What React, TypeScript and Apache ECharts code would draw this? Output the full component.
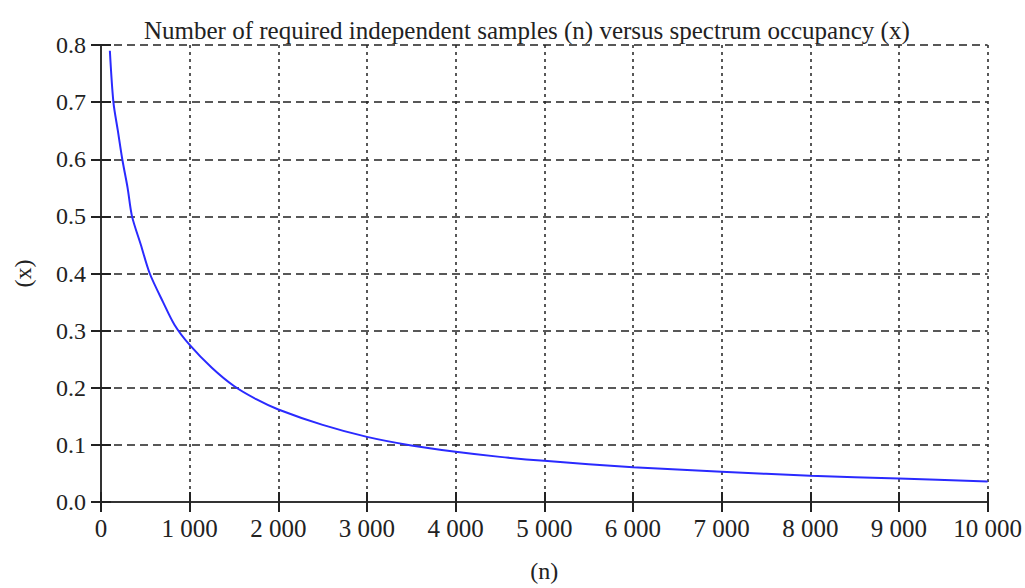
import React, { useEffect, useRef } from "react";
import * as echarts from "echarts";

const samplesN = [100, 140, 190, 240, 300, 350, 450, 550, 700, 830, 1000, 1250, 1500, 1750, 2000, 2500, 3000, 3500, 4000, 4500, 5000, 6000, 7000, 8000, 9000, 10000];
const occupancyX = [0.79, 0.70, 0.65, 0.60, 0.55, 0.50, 0.45, 0.40, 0.35, 0.31, 0.275, 0.235, 0.203, 0.18, 0.162, 0.135, 0.114, 0.099, 0.088, 0.079, 0.072, 0.061, 0.053, 0.046, 0.041, 0.036];

const titleText = "Number of required independent samples (n) versus spectrum occupancy (x)";
const xName = "(n)";
const yName = "(x)";

const FONT = "'Liberation Serif', 'Times New Roman', serif";

export default function App() {
  const ref = useRef<HTMLDivElement>(null);
  useEffect(() => {
    document.body.style.margin = "0";
    const chart = echarts.init(ref.current!, null, { renderer: "svg" });
    const fmtX = (v: number) => {
      const s = String(Math.round(v));
      return s.replace(/\B(?=(\d{3})+(?!\d))/g, " ");
    };
    const axisLineStyle = { color: "#333", width: 2 };
    chart.setOption({
      animation: false,
      backgroundColor: "#fff",
      textStyle: { fontFamily: FONT },
      title: {
        text: titleText,
        left: 139,
        top: 13,
        textStyle: { fontFamily: FONT, fontSize: 25, fontWeight: "normal", color: "#222" },
      },
      grid: { left: 101, right: 35, top: 45, bottom: 77 },
      xAxis: [
        {
          type: "value",
          min: 0,
          max: 10000,
          interval: 1000,
          position: "bottom",
          name: xName,
          nameLocation: "middle",
          nameGap: 57,
          nameTextStyle: { fontFamily: FONT, fontSize: 24, color: "#222" },
          axisLine: { show: true, lineStyle: axisLineStyle },
          axisTick: { show: true, inside: true, length: 10, lineStyle: { color: "#222", width: 2 } },
          axisLabel: { formatter: fmtX, margin: 14, fontFamily: FONT, fontSize: 25, color: "#222" },
          splitLine: { show: true, lineStyle: { color: "#222", width: 1.5, type: [3, 4] } },
        },
        {
          type: "value",
          min: 0,
          max: 10000,
          interval: 1000,
          position: "top",
          axisLine: { show: true, lineStyle: axisLineStyle },
          axisTick: { show: true, inside: true, length: 10, lineStyle: { color: "#222", width: 2 } },
          axisLabel: { show: false },
          splitLine: { show: false },
        },
      ],
      yAxis: [
        {
          type: "value",
          min: 0,
          max: 0.8,
          interval: 0.1,
          position: "left",
          name: yName,
          nameLocation: "middle",
          nameGap: 66,
          nameTextStyle: { fontFamily: FONT, fontSize: 24, color: "#222" },
          axisLine: { show: true, lineStyle: axisLineStyle },
          axisTick: { show: true, inside: true, length: 10, lineStyle: { color: "#222", width: 2 } },
          axisLabel: { formatter: (v: number) => v.toFixed(1), margin: 15, fontFamily: FONT, fontSize: 24, color: "#222" },
          splitLine: { show: true, lineStyle: { color: "#222", width: 1.5, type: [8, 5] } },
        },
        {
          type: "value",
          min: 0,
          max: 0.8,
          interval: 0.1,
          position: "right",
          axisLine: { show: true, lineStyle: axisLineStyle },
          axisTick: { show: true, inside: true, length: 10, lineStyle: { color: "#222", width: 2 } },
          axisLabel: { show: false },
          splitLine: { show: false },
        },
      ],
      series: [
        {
          type: "line",
          xAxisIndex: 0,
          yAxisIndex: 0,
          data: samplesN.map((n, i) => [n, occupancyX[i]]),
          smooth: 0.3,
          showSymbol: false,
          lineStyle: { color: "#2a2aff", width: 2 },
        },
      ],
    });
    return () => chart.dispose();
  }, []);
  return <div ref={ref} style={{ width: 1025, height: 588 }} />;
}
